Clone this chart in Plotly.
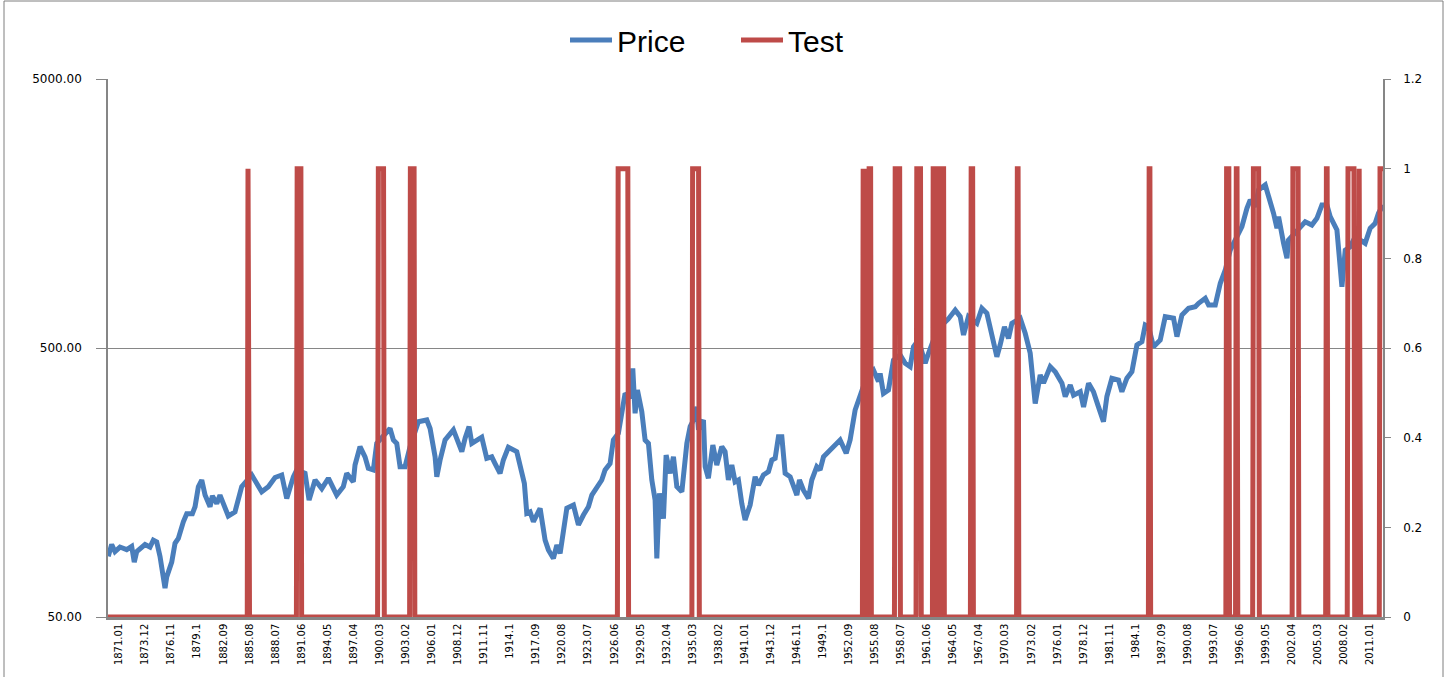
import math
import plotly.graph_objects as go

# ---------------- data ----------------
price_years = [
    1871.03, 1871.41, 1871.78, 1872.34, 1873.09, 1873.65, 1873.94, 1874.21, 1875.14, 1875.70,
    1876.07, 1876.45, 1876.82, 1877.38, 1877.57, 1878.13, 1878.50, 1878.87, 1879.43, 1879.81,
    1880.44, 1880.74, 1881.11, 1881.49, 1881.86, 1882.42, 1882.68, 1883.17, 1883.53, 1884.46,
    1885.21, 1885.96, 1887.08, 1888.20, 1888.94, 1889.69, 1890.44, 1891.00, 1891.74, 1892.12,
    1893.05, 1893.50, 1894.17, 1894.92, 1895.66, 1896.59, 1897.33, 1897.71, 1898.45, 1898.64,
    1899.20, 1899.76, 1900.13, 1900.69, 1901.07, 1901.81, 1902.56, 1902.93, 1903.31, 1903.68,
    1904.24, 1904.80, 1905.73, 1906.67, 1907.04, 1907.60, 1907.79, 1908.16, 1908.72, 1909.65,
    1910.59, 1910.96, 1911.40, 1911.71, 1912.82, 1913.38, 1913.94, 1914.31, 1914.87, 1915.24,
    1915.80, 1916.74, 1917.11, 1917.59, 1917.86, 1918.23, 1918.60, 1919.35, 1919.91, 1920.28,
    1920.84, 1921.22, 1921.59, 1922.34, 1923.08, 1923.64, 1924.20, 1924.76, 1925.14, 1925.69,
    1926.25, 1926.62, 1927.18, 1927.55, 1928.11, 1928.86, 1929.42, 1929.72, 1929.98, 1930.24,
    1930.73, 1931.10, 1931.47, 1931.85, 1932.22, 1932.41, 1932.70, 1933.15, 1933.45, 1933.90,
    1934.27, 1934.65, 1935.21, 1935.77, 1936.14, 1936.51, 1936.89, 1937.07, 1937.63, 1937.82,
    1938.18, 1938.68, 1939.12, 1939.68, 1940.05, 1940.42, 1940.80, 1941.17, 1941.54, 1941.92,
    1942.29, 1942.85, 1943.41, 1943.78, 1944.34, 1944.90, 1945.28, 1945.65, 1946.02, 1946.40,
    1946.77, 1947.33, 1947.70, 1948.08, 1948.37, 1948.82, 1949.38, 1949.75, 1950.31, 1950.68,
    1951.06, 1951.81, 1952.55, 1952.92, 1953.60, 1954.04, 1954.60, 1955.16, 1955.91, 1956.65,
    1957.21, 1957.40, 1957.77, 1958.33, 1958.89, 1959.64, 1960.20, 1960.76, 1961.13, 1961.69,
    1962.44, 1962.81, 1963.37, 1964.12, 1965.01, 1965.80, 1966.36, 1966.73, 1967.28, 1968.22,
    1968.78, 1969.34, 1969.90, 1970.46, 1970.83, 1971.31, 1971.76, 1972.14, 1973.07, 1973.63,
    1974.19, 1974.75, 1975.31, 1975.68, 1976.43, 1976.99, 1977.74, 1978.11, 1978.67, 1979.04,
    1979.79, 1980.16, 1980.72, 1981.27, 1981.83, 1982.39, 1982.77, 1983.33, 1984.07, 1984.45,
    1985.01, 1985.57, 1986.13, 1986.69, 1987.06, 1987.43, 1987.99, 1988.74, 1989.30, 1990.23,
    1990.61, 1991.17, 1991.91, 1992.66, 1993.03, 1993.78, 1994.15, 1994.90, 1995.46, 1996.02,
    1996.57, 1997.32, 1997.88, 1998.44, 1998.81, 1999.37, 1999.74, 2000.49, 2001.05, 2001.42,
    2001.80, 2001.98, 2002.54, 2002.92, 2003.09, 2003.65, 2004.22, 2004.96, 2005.71, 2006.27,
    2006.83, 2007.39, 2007.76, 2008.51, 2009.07, 2009.44, 2010.00, 2010.56, 2011.67, 2012.23,
    2012.79, 2013.16, 2013.67,
]
price_values = [
    84, 93, 87.5, 91, 89, 91.5, 80, 87.5, 93, 91,
    96.5, 95, 84, 64, 70.5, 80, 94, 98, 113, 121,
    121, 128.5, 152.5, 161.5, 142, 128.5, 141, 132, 142, 118.7,
    123, 152.5, 168.6, 146, 152.5, 165, 168.6, 138, 166, 176,
    171, 136, 161.5, 150, 164, 142, 152.5, 171, 159, 183.7,
    215, 197, 178.5, 176, 221, 234, 251, 227.5, 221, 181,
    181, 215, 266, 270, 251, 197, 166, 191.7, 227.5, 248,
    206, 231, 255, 221, 233, 194.5, 197, 186, 171, 191.7,
    213.7, 206, 181, 157, 121.5, 123, 113, 126.8, 96.6, 88.8,
    82.6, 92.6, 86.2, 126.8, 130.4, 110, 119.7, 128.5, 142, 152.5,
    161.5, 176, 186, 227.5, 241, 339, 325, 420, 286, 349,
    290, 227.5, 221, 161.5, 136, 82.6, 144, 116, 200, 171,
    197, 152.5, 146, 221, 255, 270, 302, 248, 270, 181,
    164, 218, 183.7, 215, 206, 161.5, 183.7, 159, 161.5, 132,
    114.7, 130.4, 166, 154.7, 168.6, 173.5, 191.7, 194.5, 234, 234,
    171, 166, 152.5, 142, 161.5, 148, 138, 161.5, 181, 176,
    197, 209, 221, 227.5, 203, 227.5, 294, 330, 391, 414,
    375, 402, 339, 349, 451, 471, 439, 426, 505, 535,
    439, 478, 535, 600, 640, 692, 654, 559, 654, 618,
    702, 673, 551, 464, 513, 600, 543, 618, 645, 567,
    478, 311, 397, 370, 426, 408, 370, 330, 364, 334,
    344, 302, 370, 344, 302, 266, 330, 386, 380, 344,
    386, 408, 513, 528, 609, 600, 505, 535, 654, 645,
    551, 663, 702, 712, 733, 765, 723, 723, 870, 975,
    1156, 1315, 1412, 1653, 1775, 1676, 1934, 2018, 1775, 1584,
    1393, 1539, 1225, 1078, 1260, 1315, 1373, 1474, 1433, 1517,
    1700, 1700, 1539, 1373, 845, 1156, 1190, 1297, 1225, 1393,
    1453, 1584, 1700,
]

# months (YYYY.MM) in which Test = 1 : start / end of each run
test_on_start = [
    "1886.09", "1892.03", "1901.04", "1904.11", "1928.02", "1936.06",
    "1955.07", "1955.11", "1956.03", "1959.02", "1961.07", "1963.05",
    "1963.10", "1964.03", "1967.08", "1972.10", "1987.07", "1996.03",
    "1997.04", "1999.03", "2003.08", "2007.05", "2009.10", "2011.01",
    "2013.05",
]
test_on_end = [
    "1886.09", "1892.08", "1901.11", "1905.04", "1929.03", "1937.02",
    "1955.07", "1955.12", "1956.05", "1959.08", "1961.12", "1963.06",
    "1963.11", "1964.07", "1967.10", "1972.11", "1987.08", "1996.06",
    "1997.05", "1999.10", "2004.03", "2007.06", "2010.06", "2011.01",
    "2013.09",
]

first_month = "1871.01"
last_month = "2013.09"

tick_labels = [
    "1871.01", "1873.12", "1876.11", "1879.1", "1882.09", "1885.08", "1888.07",
    "1891.06", "1894.05", "1897.04", "1900.03", "1903.02", "1906.01", "1908.12",
    "1911.11", "1914.1", "1917.09", "1920.08", "1923.07", "1926.06", "1929.05",
    "1932.04", "1935.03", "1938.02", "1941.01", "1943.12", "1946.11", "1949.1",
    "1952.09", "1955.08", "1958.07", "1961.06", "1964.05", "1967.04", "1970.03",
    "1973.02", "1976.01", "1978.12", "1981.11", "1984.1", "1987.09", "1990.08",
    "1993.07", "1996.06", "1999.05", "2002.04", "2005.03", "2008.02", "2011.01",
]

left_tick_values = [50, 500, 5000]
left_tick_text = ["50.00", "500.00", "5000.00"]
right_tick_values = [0, 0.2, 0.4, 0.6, 0.8, 1.0, 1.2]
right_tick_text = ["0", "0.2", "0.4", "0.6", "0.8", "1", "1.2"]


# ---------------- helpers ----------------
def month_label_to_year(label):
    y, m = label.split(".")
    m = m.ljust(2, "0")
    return int(y) + (int(m) - 1) / 12.0


def month_label_to_index(label):
    y, m = label.split(".")
    m = m.ljust(2, "0")
    return int(y) * 12 + int(m) - 1


i0 = month_label_to_index(first_month)
i1 = month_label_to_index(last_month)
month_index = list(range(i0, i1 + 1))
test_x = [i / 12.0 for i in month_index]
runs = [(month_label_to_index(s), month_label_to_index(e)) for s, e in zip(test_on_start, test_on_end)]
test_y = [1 if any(s <= i <= e for s, e in runs) else 0 for i in month_index]

tick_vals = [month_label_to_year(t) for t in tick_labels]

BLUE = "#4A7EBB"
RED = "#BE4B48"
GREY = "#868686"

# plot-area geometry in pixels
W, H = 1445, 677
L, R, T, B = 108, 62, 79, 60
pw, ph = W - L - R, H - T - B

fig = go.Figure()
fig.add_trace(go.Scatter(
    x=price_years, y=price_values, name="Price", mode="lines",
    line=dict(color=BLUE, width=5), yaxis="y",
))
fig.add_trace(go.Scatter(
    x=test_x, y=test_y, name="Test", mode="lines",
    line=dict(color=RED, width=5), yaxis="y2",
))

fig.update_layout(
    width=W, height=H,
    margin=dict(l=L, r=R, t=T, b=B, pad=0, autoexpand=False),
    paper_bgcolor="white", plot_bgcolor="white",
    font=dict(family="DejaVu Sans", color="#000000"),
    showlegend=True,
    legend=dict(
        orientation="h", xref="container", yref="container",
        x=565 / W, xanchor="left", y=1 - 40 / H, yanchor="middle",
        font=dict(family="Liberation Sans", size=30, color="#000000"),
        itemwidth=42, entrywidth=114, entrywidthmode="pixels",
        bgcolor="rgba(0,0,0,0)",
    ),
    xaxis=dict(
        range=[test_x[0], test_x[-1]], automargin=False,
        tickmode="array", tickvals=tick_vals, ticktext=tick_labels,
        tickangle=-90, tickfont=dict(size=10, family="DejaVu Sans"),
        ticklabelshift=11,
        showgrid=False, zeroline=False,
        showline=True, linecolor=GREY, linewidth=2.5,
        ticks="",
    ),
    yaxis=dict(
        type="log", range=[math.log10(50), math.log10(5000)], automargin=False,
        tickmode="array", tickvals=left_tick_values, ticktext=left_tick_text,
        tickfont=dict(size=12, family="DejaVu Sans"),
        showgrid=True, gridcolor=GREY, gridwidth=1,
        showline=True, linecolor=GREY, linewidth=1.5,
        ticks="outside", ticklen=10, tickcolor=GREY, tickwidth=1,
        ticklabelstandoff=12, zeroline=False,
    ),
    yaxis2=dict(
        overlaying="y", side="right", range=[0, 1.2], automargin=False,
        tickmode="array", tickvals=right_tick_values, ticktext=right_tick_text,
        tickfont=dict(size=12, family="DejaVu Sans"),
        showgrid=False, zeroline=False,
        showline=True, linecolor=GREY, linewidth=1.5,
        ticks="outside", ticklen=6, tickcolor=GREY, tickwidth=1,
        ticklabelstandoff=10,
    ),
    shapes=[
        dict(type="rect", xref="paper", yref="paper",
             x0=(4 - L) / pw, x1=(1443 - L) / pw,
             y0=(T + ph - 700) / ph, y1=(T + ph - 1) / ph,
             line=dict(color="#7F7F7F", width=1), fillcolor="rgba(0,0,0,0)",
             layer="below"),
    ],
)

fig.write_html(
    "out.html",
    config={"displayModeBar": False},
    post_script="document.body.style.margin='0px';document.body.style.overflow='hidden';",
)
